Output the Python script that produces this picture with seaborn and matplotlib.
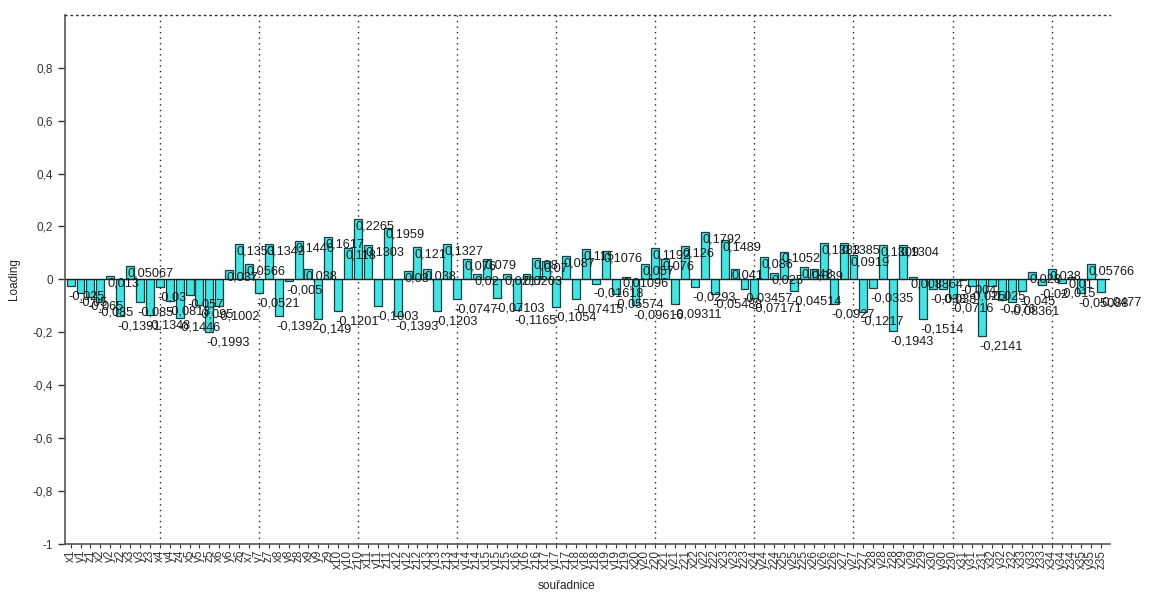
import numpy as np
import pandas as pd
import matplotlib
matplotlib.use("Agg")
import matplotlib.pyplot as plt
import seaborn as sns
from matplotlib.ticker import FuncFormatter

# loadings pro souradnice x1..z35
souradnice = [f"{c}{i}" for i in range(1, 36) for c in ("x", "y", "z")]

loading = [
    -0.025, -0.05, -0.065, -0.085, 0.013, -0.1391, 0.05067, -0.085, -0.1348, -0.03,
    -0.0813, -0.1446, -0.057, -0.095, -0.1993, -0.1002, 0.037, 0.1353, 0.0566, -0.0521,
    0.1342, -0.1392, -0.005, 0.1446, 0.038, -0.149, 0.1617, -0.1201, 0.118, 0.2265,
    0.1303, -0.1003, 0.1959, -0.1393, 0.03, 0.121, 0.038, -0.1203, 0.1327, -0.0747,
    0.076, 0.02, 0.079, -0.07103, 0.0217, -0.1165, 0.0203, 0.08, 0.07, -0.1054,
    0.087, -0.07415, 0.115, -0.01618, 0.1076, -0.05574, 0.01096, -0.09616, 0.057, 0.1192,
    0.076, -0.09311, 0.126, -0.0293, 0.1792, -0.05488, 0.1489, 0.041, -0.03457, -0.07171,
    0.086, 0.025, 0.1052, -0.04514, 0.048, 0.039, 0.1383, -0.0927, 0.1385, 0.0919,
    -0.1217, -0.0335, 0.1309, -0.1943, 0.1304, 0.008864, -0.1514, -0.038, -0.038, -0.0716,
    -0.004, -0.025, -0.2141, -0.025, -0.076, -0.08361, -0.045, 0.028, -0.02, 0.038,
    -0.015, 0.01, -0.05088, 0.05766, -0.0477,
]

y_ticks = [-1, -0.8, -0.6, -0.4, -0.2, 0, 0.2, 0.4, 0.6, 0.8]

df = pd.DataFrame({"souradnice": souradnice, "Loading": loading})

sns.set_style("white")
plt.rcParams["font.family"] = ["Liberation Sans", "DejaVu Sans"]

fig = plt.figure(figsize=(11.76, 5.92), dpi=100)
ax = fig.add_axes([0.055, 0.081, 0.889, 0.894])

sns.barplot(data=df, x="souradnice", y="Loading", color="#3ee6e6", saturation=1,
            edgecolor="#203c3c", linewidth=0.9, width=0.8, ax=ax)

ax.axhline(0, color="#202020", lw=0.9, zorder=3)

for i in range(9, len(souradnice), 10):
    ax.axvline(i, color="#222222", lw=1.0, ls=(0, (1, 3)), zorder=0)

def fmt(v):
    return f"{v:.4g}".replace(".", ",")

for i, v in enumerate(df["Loading"]):
    off = -1 if v >= 0 else -3
    ax.annotate(fmt(v), (i - 0.4, v), xytext=(1, off), textcoords="offset points",
                ha="left", va="top", fontsize=9.2, color="#1a1a1a", zorder=4)

ax.set_xlim(-0.6, len(souradnice) - 0.1)
ax.set_ylim(-1, 1.0)
ax.set_yticks(y_ticks)
ax.yaxis.set_major_formatter(FuncFormatter(lambda v, p: f"{v:g}".replace(".", ",")))
ax.tick_params(axis="y", labelsize=8.5, colors="#333333", length=5, width=1, direction="out", left=True)
ax.tick_params(axis="x", labelsize=8.5, rotation=90, length=3, direction="out", bottom=True,
               colors="#333333", pad=1)

for s in ("left", "bottom"):
    ax.spines[s].set_color("#555555")
    ax.spines[s].set_linewidth(1.2)
ax.spines["right"].set_visible(False)
ax.spines["top"].set_linestyle((0, (1, 3)))
ax.spines["top"].set_color("#333333")
ax.spines["top"].set_linewidth(1.0)

ax.set_xlabel("souřadnice", fontsize=8.5, color="#222222")
ax.set_ylabel("Loading", fontsize=8.5, color="#222222")
ax.yaxis.set_label_coords(-0.043, 0.5)
ax.xaxis.set_label_coords(0.48, -0.068)

fig.savefig("out.png", dpi=100)
